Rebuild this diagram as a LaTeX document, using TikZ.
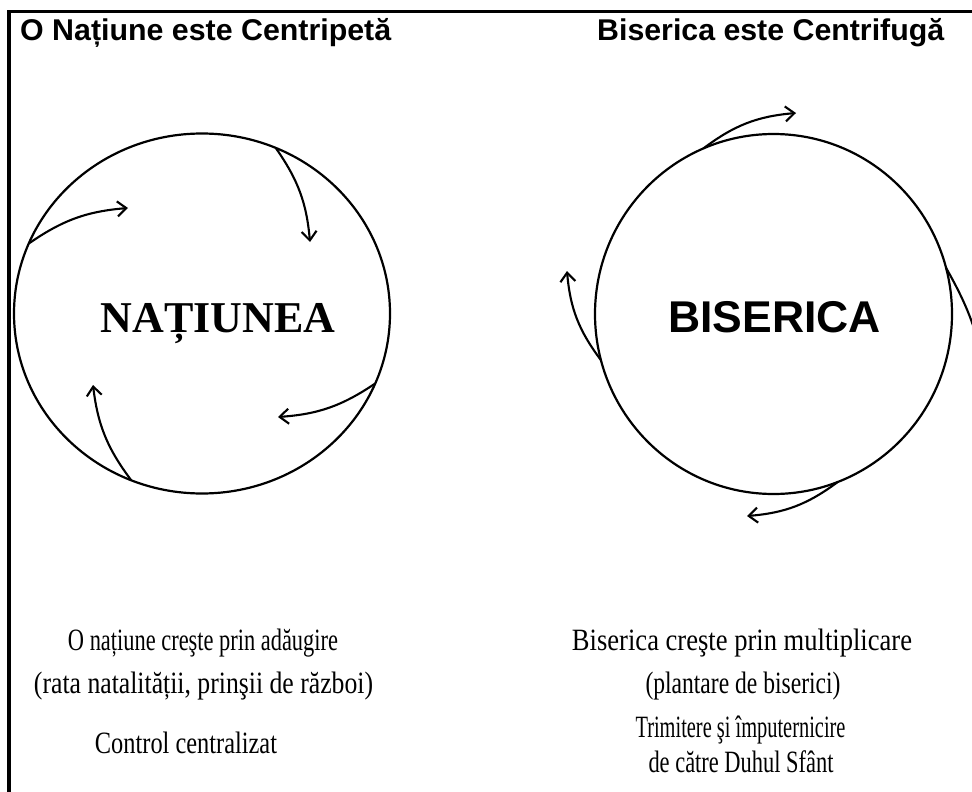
\documentclass[tikz,border=0pt]{standalone}
\usepackage{fontspec}
\usepackage{graphicx}
\setmainfont{Liberation Serif}
\newfontfamily\arialfont{Liberation Sans}
\usetikzlibrary{shapes.geometric,arrows.meta}
\newcommand{\fitline}[2]{\resizebox{#1}{\height}{\fontsize{31}{36}\selectfont #2}}
\begin{document}
\begin{tikzpicture}[x=1pt,y=-1pt,
  ring/.style={draw, ellipse, line width=2.2pt, inner sep=0pt, outer sep=0pt},
  flow/.style={line width=2.1pt, -{Straight Barb[length=9pt,width=15pt]}},
  ttl/.style={font=\arialfont\bfseries\fontsize{30}{36}\selectfont, anchor=base west, inner sep=0pt},
  bigserif/.style={font=\bfseries\fontsize{44}{50}\selectfont, anchor=base, inner sep=0pt},
  bigsans/.style={font=\arialfont\bfseries\fontsize{44.5}{50}\selectfont, anchor=base, inner sep=0pt},
  body/.style={anchor=base, inner sep=0pt}]
\useasboundingbox (0,0) rectangle (972,792);
\clip (0,0) rectangle (972,792);
% frame
\draw[line width=3.5pt, line join=miter] (9,800) -- (9,11.7) -- (980,11.7);
% titles
\node[ttl] (t1) at (20,41) {\resizebox{371pt}{\height}{O Națiune este Centripetă}};
\node[ttl] (t2) at (597,41) {\resizebox{347pt}{\height}{Biserica este Centrifugă}};
% circles
\node[ring, minimum width=376pt, minimum height=360pt] (nat) at (202,313.5) {};
\node[ring, minimum width=357pt, minimum height=360pt] (bis) at (773.5,314) {};
\node[bigserif] (natl) at (218,332) {NAȚIUNEA};
\node[bigsans] (bisl) at (774.5,332) {BISERICA};
% centripetal arrows
\coordinate (n1) at (128,208);
\coordinate (n2) at (310,242);
\coordinate (n3) at (278,417);
\coordinate (n4) at (93,385);
\draw[flow] (nat.158) to[bend left=15] (n1);
\draw[flow] (nat.66.8) to[bend left=15] (n2);
\draw[flow] (nat.338) to[bend left=15] (n3);
\draw[flow] (nat.247.2) to[bend left=15] (n4);
% centrifugal arrows
\coordinate (b1) at (796,113);
\coordinate (b2) at (567,271);
\coordinate (b3) at (747,516);
\coordinate (b4) at (986,380);
\draw[flow] (bis.113.4) to[bend left=16] (b1);
\draw[flow] (bis.195.6) to[bend left=16] (b2);
\draw[flow] (bis.291.3) to[bend left=16] (b3);
\draw[flow] (bis.15.6) to[bend left=10] (b4);
% bottom texts
\node[body] (l1) at (203,650) {\fitline{270pt}{O națiune creşte prin adăugire}};
\node[body] (l2) at (203.5,693) {\fitline{339pt}{(rata natalității, prinşii de război)}};
\node[body] (l3) at (186,753) {\fitline{182pt}{Control centralizat}};
\node[body] (r1) at (742,650) {\fitline{340pt}{Biserica creşte prin multiplicare}};
\node[body] (r2) at (743,693) {\fitline{195pt}{(plantare de biserici)}};
\node[body] (r3) at (740.5,737) {\fitline{210pt}{Trimitere şi împuternicire}};
\node[body] (r4) at (741,772) {\fitline{185pt}{de către Duhul Sfânt}};
\end{tikzpicture}
\end{document}
